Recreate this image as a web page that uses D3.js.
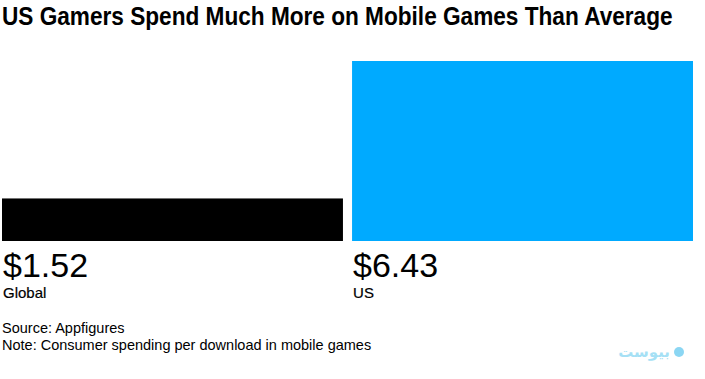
<!DOCTYPE html>
<html>
<head>
<meta charset="utf-8">
<script src="https://cdn.jsdelivr.net/npm/d3@7"></script>
<style>
  html, body { margin: 0; padding: 0; background: #fff; }
  svg { display: block; }
</style>
</head>
<body>
<svg id="chart" width="705" height="379"></svg>
<script>
const categories = ["Global", "US"];
const values = [1.52, 6.43];
const valueLabels = ["$1.52", "$6.43"];
const colors = ["#000000", "#00aaff"];
const title = "US Gamers Spend Much More on Mobile Games Than Average";
const sourceText = "Source: Appfigures";
const noteText = "Note: Consumer spending per download in mobile games";

const svg = d3.select("#chart");

const x = d3.scaleBand().domain(categories).range([2, 693]).paddingInner(0.026).paddingOuter(0);
const y = d3.scaleLinear().domain([0, d3.max(values)]).range([241, 61]);

// Title (bold, horizontally condensed to fit)
const tg = svg.append("g");
const tt = tg.append("text")
  .attr("x", 0).attr("y", 0)
  .attr("font-family", "'Liberation Sans', Arial, sans-serif")
  .attr("font-weight", "bold")
  .attr("font-size", 25)
  .attr("fill", "#000")
  .text(title);
const tw = tt.node().getComputedTextLength();
const targetW = 671;
tg.attr("transform", `translate(2,25) scale(${targetW / tw},1)`);

const data = categories.map((c, i) => ({ c, v: values[i], label: valueLabels[i], color: colors[i] }));

svg.selectAll("rect.bar").data(data).join("rect")
  .attr("class", "bar")
  .attr("x", d => x(d.c))
  .attr("width", x.bandwidth())
  .attr("y", d => y(d.v))
  .attr("height", d => y(0) - y(d.v))
  .attr("fill", d => d.color);

svg.selectAll("text.val").data(data).join("text")
  .attr("class", "val")
  .attr("x", d => x(d.c) + 1)
  .attr("y", 277)
  .attr("font-family", "'Liberation Sans', Arial, sans-serif")
  .attr("font-size", 34)
  .attr("fill", "#000")
  .text(d => d.label);

svg.selectAll("text.cat").data(data).join("text")
  .attr("class", "cat")
  .attr("x", d => x(d.c) + 1)
  .attr("y", 298)
  .attr("font-family", "'Liberation Sans', Arial, sans-serif")
  .attr("font-size", 15)
  .attr("fill", "#000")
  .attr("stroke", "#000")
  .attr("stroke-width", 0.2)
  .text(d => d.c);

svg.append("text")
  .attr("x", 2).attr("y", 333)
  .attr("font-family", "'Liberation Sans', Arial, sans-serif")
  .attr("font-size", 14.5)
  .attr("fill", "#000")
  .text(sourceText);

svg.append("text")
  .attr("x", 2).attr("y", 350)
  .attr("font-family", "'Liberation Sans', Arial, sans-serif")
  .attr("font-size", 14.5)
  .attr("fill", "#000")
  .text(noteText);

// Watermark
const wm = svg.append("g").attr("opacity", 0.55);
wm.append("text")
  .attr("x", 670).attr("y", 357)
  .attr("text-anchor", "end")
  .attr("font-family", "'DejaVu Sans', sans-serif")
  .attr("font-weight", "bold")
  .attr("font-size", 15)
  .attr("fill", "#5cc8ee")
  .text("بیوست");
wm.append("circle")
  .attr("cx", 679).attr("cy", 352).attr("r", 5)
  .attr("fill", "#2eb6ea");
</script>
</body>
</html>
